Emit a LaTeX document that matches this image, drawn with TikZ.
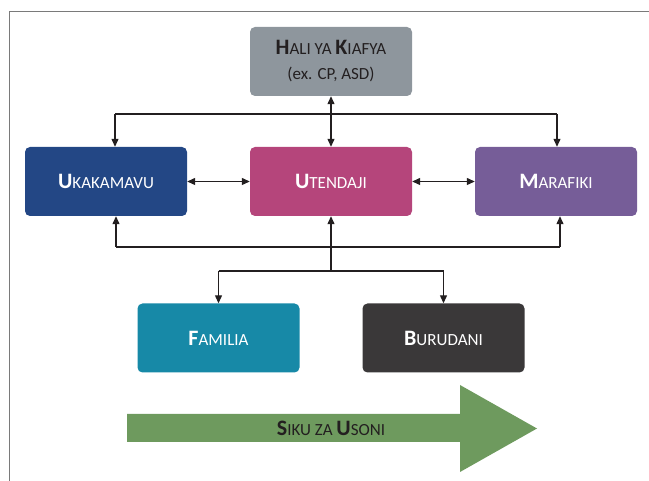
\documentclass[tikz,border=0pt]{standalone}
\usepackage{fontspec}
\setmainfont{Carlito}
\usetikzlibrary{arrows.meta}
\definecolor{haligray}{HTML}{8E969D}
\definecolor{ukblue}{HTML}{234785}
\definecolor{utpink}{HTML}{B5457B}
\definecolor{mapurple}{HTML}{765D98}
\definecolor{fateal}{HTML}{1789A7}
\definecolor{budark}{HTML}{3A3839}
\definecolor{arrgreen}{HTML}{6E9A5E}
\definecolor{inkdark}{HTML}{231F20}
\definecolor{framegray}{HTML}{7A7A7A}
\newcommand\fl[2]{{\fontsize{22}{24}\selectfont\bfseries #1}{\fontsize{17}{24}\selectfont #2}}
\begin{document}
\begin{tikzpicture}[x=1pt,y=-1pt,
  box/.style={rounded corners=5pt, minimum width=162pt, minimum height=69pt, inner sep=0pt, text=white, align=center},
  link/.style={draw=inkdark, line width=1.2pt},
  tip/.style={link, -{Triangle[length=8pt,width=7pt]}},
  both/.style={link, {Triangle[length=8pt,width=7pt]}-{Triangle[length=8pt,width=7pt]}}]
\useasboundingbox (0,0) rectangle (649,481);
\draw[framegray, line width=1.5pt] (9.5,481) -- (9.5,11.5) -- (649,11.5);
\node[box, fill=haligray, text=inkdark, font=\fontsize{17}{25}\selectfont] (hali) at (331,61.5) {\fl{H}{ALI YA }\fl{K}{IAFYA}\\(ex. CP, ASD)};
\node[box, fill=ukblue] (uk) at (106,181.5) {\fl{U}{KAKAMAVU}};
\node[box, fill=utpink] (ut) at (331,181.5) {\fl{U}{TENDAJI}};
\node[box, fill=mapurple] (ma) at (556,181.5) {\fl{M}{ARAFIKI}};
\node[box, fill=fateal] (fa) at (218.5,338) {\fl{F}{AMILIA}};
\node[box, fill=budark] (bu) at (443.5,338) {\fl{B}{URUDANI}};
% top connectors
\coordinate (tl) at (115,114);
\coordinate (tr) at (557,114);
\draw[both] (hali.south) -- (ut.north);
\draw[link] (tl) -- (tr);
\draw[tip] (tl) -- (tl |- uk.north);
\draw[tip] (tr) -- (tr |- ma.north);
% middle
\draw[both] (uk.east) -- (ut.west);
\draw[both] (ut.east) -- (ma.west);
% bottom connectors
\coordinate (bl) at (116,247);
\coordinate (br) at (560,247);
\coordinate (lc) at (331,271);
\coordinate (ll) at (218.5,271);
\coordinate (lr) at (443.5,271);
\draw[link] (bl) -- (br);
\draw[tip] (bl) -- (bl |- uk.south);
\draw[tip] (br) -- (br |- ma.south);
\draw[tip] (lc) -- (ut.south);
\draw[link] (ll) -- (lr);
\draw[tip] (ll) -- (fa.north);
\draw[tip] (lr) -- (bu.north);
% big arrow
\fill[arrgreen] (127,414) -- (460,414) -- (460,385) -- (537,428.5) -- (460,472) -- (460,442) -- (127,442) -- cycle;
\node[text=inkdark] (siku) at (331,428) {\fl{S}{IKU ZA }\fl{U}{SONI}};
\end{tikzpicture}
\end{document}
